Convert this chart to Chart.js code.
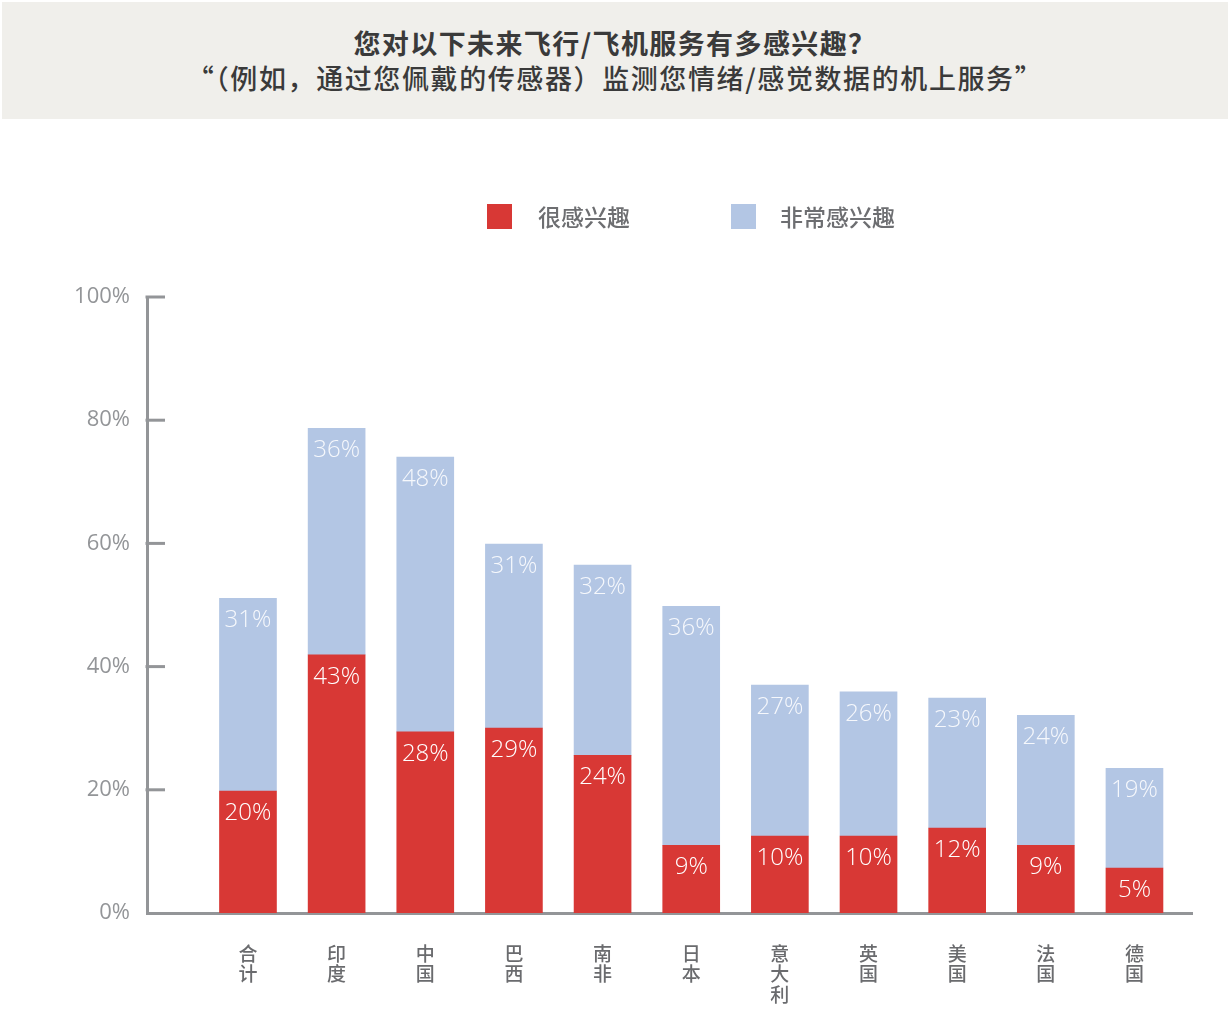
<!DOCTYPE html>
<html><head><meta charset="utf-8">
<script src="https://cdn.jsdelivr.net/npm/chart.js@4.4.1/dist/chart.umd.min.js"></script>
<style>
html,body{margin:0;padding:0;background:#fff;}
#wrap{position:relative;width:1230px;height:1030px;overflow:hidden;}
#hdr{position:absolute;left:2px;top:2px;width:1226px;height:117px;background:#f0efeb;font-family:"Noto Sans CJK SC",sans-serif;color:#3a3a3a;text-align:center;z-index:2;}
#l1{position:absolute;left:0;right:0;top:24px;font-size:27px;font-weight:700;line-height:34px;letter-spacing:1.4px;}
#l2{position:absolute;left:0;right:0;top:58px;font-size:27px;font-weight:500;line-height:36px;letter-spacing:1.6px;}
#cbox{position:absolute;left:0;top:0;width:1230px;height:1030px;}
</style></head>
<body>
<div id="wrap">
  <div id="hdr"><div id="l1">您对以下未来飞行/飞机服务有多感兴趣？</div><div id="l2">“（例如，通过您佩戴的传感器）监测您情绪/感觉数据的机上服务”</div></div>
  <div id="cbox"><canvas id="cv"></canvas></div>
</div>
<script>
const categories = ['合计','印度','中国','巴西','南非','日本','意大利','英国','美国','法国','德国'];
const seriesNames = ['很感兴趣','非常感兴趣'];
const veryValues = [19.8, 41.9, 29.4, 30.0, 25.6, 11.0, 12.5, 12.5, 13.8, 11.0, 7.3];
const extremelyValues = [31.3, 36.8, 44.6, 29.9, 30.9, 38.8, 24.5, 23.4, 21.1, 21.1, 16.2];
const veryLabels = ['20%','43%','28%','29%','24%','9%','10%','10%','12%','9%','5%'];
const extremelyLabels = ['31%','36%','48%','31%','32%','36%','27%','26%','23%','24%','19%'];
const yTicks = [0, 20, 40, 60, 80, 100];
const colors = ['#d83835', '#b3c6e4'];

const AXIS = '#939598';

const tickMarks = {
  id: 'tickMarks',
  afterDraw(chart) {
    const y = chart.scales.y, ctx = chart.ctx;
    ctx.save();
    ctx.strokeStyle = AXIS; ctx.lineWidth = 3;
    yTicks.forEach(v => {
      if (v === 0) return;
      const py = y.getPixelForValue(v);
      ctx.beginPath(); ctx.moveTo(y.right - 1.5, py); ctx.lineTo(y.right + 18, py); ctx.stroke();
    });
    ctx.restore();
  }
};

const barLabels = {
  id: 'barLabels',
  afterDatasetsDraw(chart) {
    const ctx = chart.ctx;
    const lbls = [veryLabels, extremelyLabels];
    ctx.save();
    ctx.font = '300 24px "Open Sans"';
    ctx.textAlign = 'center'; ctx.textBaseline = 'middle';
    chart.data.datasets.forEach((ds, di) => {
      const meta = chart.getDatasetMeta(di);
      ctx.fillStyle = di === 0 ? '#ffffff' : '#f6f8fc';
      meta.data.forEach((bar, i) => {
        ctx.fillText(lbls[di][i], bar.x, bar.y + 22);
      });
    });
    ctx.restore();
  }
};

const legendPlug = {
  id: 'legendPlug',
  afterDraw(chart) {
    const ctx = chart.ctx;
    const items = [{bx: 487, tx: 538}, {bx: 731, tx: 780}];
    ctx.save();
    ctx.font = '500 23px "Noto Sans CJK SC"';
    ctx.textBaseline = 'middle'; ctx.textAlign = 'left';
    chart.data.datasets.forEach((ds, i) => {
      ctx.fillStyle = ds.backgroundColor;
      ctx.fillRect(items[i].bx, 204, 25, 25);
      ctx.fillStyle = '#6d6e71';
      ctx.fillText(ds.label, items[i].tx, 217);
    });
    ctx.restore();
  }
};

function build() {
  new Chart(document.getElementById('cv'), {
    type: 'bar',
    data: {
      datasets: [
        {label: seriesNames[0], data: veryValues.map((v, i) => ({x: i, y: v})), backgroundColor: colors[0], borderWidth: 0, barThickness: 57},
        {label: seriesNames[1], data: extremelyValues.map((v, i) => ({x: i, y: v})), backgroundColor: colors[1], borderWidth: 0, barThickness: 57}
      ]
    },
    options: {
      responsive: true, maintainAspectRatio: false, animation: false,
      layout: {padding: {left: 0, top: 297, right: 38, bottom: 0}},
      plugins: {legend: {display: false}, tooltip: {enabled: false}, title: {display: false}},
      scales: {
        x: {
          type: 'linear', stacked: true, min: -1.139, max: 10.649, offset: false,
          grid: {display: false, drawTicks: false, offset: false},
          border: {display: true, color: AXIS, width: 3},
          afterBuildTicks: s => { s.ticks = categories.map((c, i) => ({value: i})); },
          afterFit: s => { s.height = 117; },
          ticks: {
            autoSkip: false, maxRotation: 0, padding: 31, color: '#6a6b6e',
            font: {family: '"Noto Sans CJK SC"', size: 19, weight: '500', lineHeight: 1.06},
            callback: v => categories[v] ? Array.from(categories[v]) : ''
          }
        },
        y: {
          stacked: true, min: 0, max: 100,
          grid: {display: false, drawTicks: false},
          border: {display: true, color: AXIS, width: 3},
          afterBuildTicks: s => { s.ticks = yTicks.map(v => ({value: v})); },
          afterFit: s => { s.width = 147; },
          ticks: {padding: 17, color: AXIS, font: {family: '"Open Sans"', size: 22, weight: '400'}, callback: v => v + '%'}
        }
      }
    },
    plugins: [tickMarks, barLabels, legendPlug]
  });
}
Promise.all([
  document.fonts.load('22px "Open Sans"'),
  document.fonts.load('300 24px "Open Sans"'),
  document.fonts.load('500 23px "Noto Sans CJK SC"'),
  document.fonts.load('500 19px "Noto Sans CJK SC"')
]).then(build, build);
</script>
</body></html>
